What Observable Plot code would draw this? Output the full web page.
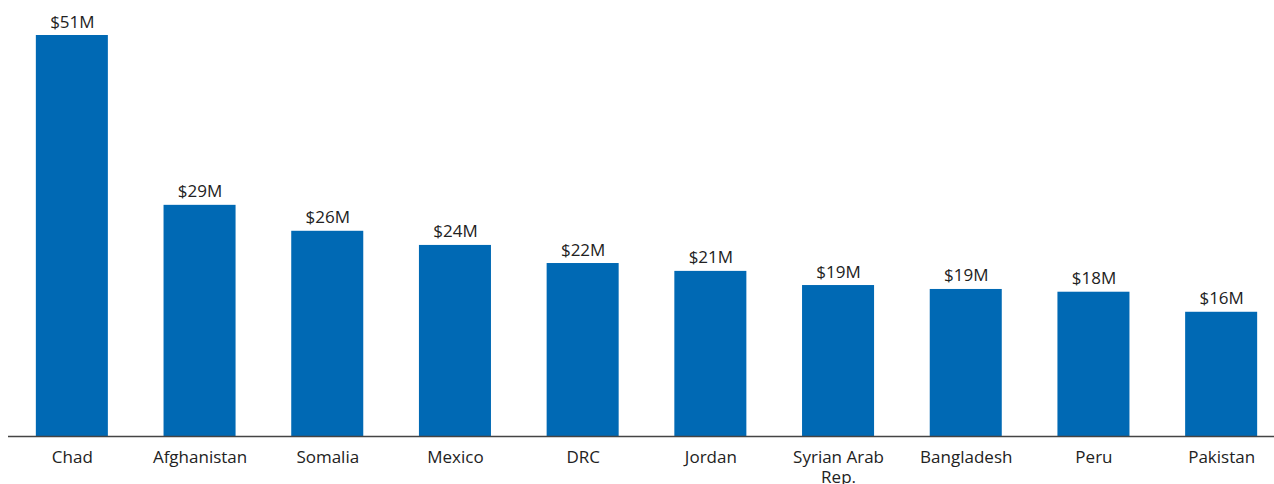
<!DOCTYPE html>
<html>
<head>
<meta charset="utf-8">
<script src="https://cdn.jsdelivr.net/npm/d3@7"></script>
<script src="https://cdn.jsdelivr.net/npm/@observablehq/plot@0.6"></script>
<style>
  html, body { margin: 0; padding: 0; background: #fff; overflow: hidden; }
  #chart { width: 1274px; height: 484px; overflow: hidden; }
  #chart svg { max-width: none !important; display: block; }
</style>
</head>
<body>
<div id="chart"></div>
<script>
const countries = ["Chad", "Afghanistan", "Somalia", "Mexico", "DRC", "Jordan", "Syrian Arab Rep.", "Bangladesh", "Peru", "Pakistan"];
const tickLabels = ["Chad", "Afghanistan", "Somalia", "Mexico", "DRC", "Jordan", "Syrian Arab\nRep.", "Bangladesh", "Peru", "Pakistan"];
const values = [51, 29.4, 26.1, 24.3, 22.0, 21.0, 19.2, 18.7, 18.35, 15.8];
const valueLabels = ["$51M", "$29M", "$26M", "$24M", "$22M", "$21M", "$19M", "$19M", "$18M", "$16M"];

const data = countries.map((c, i) => ({country: c, value: values[i], label: valueLabels[i]}));
const tickMap = new Map(countries.map((c, i) => [c, tickLabels[i]]));

const chart = Plot.plot({
  width: 1285,
  height: 484,
  marginLeft: 8,
  marginRight: 0,
  marginTop: 35,
  marginBottom: 48,
  style: {fontFamily: "'Open Sans', sans-serif", fontSize: "17px", color: "#222", background: "#fff"},
  x: {domain: countries, paddingInner: 0.436, paddingOuter: 0.218, round: false, label: null},
  y: {domain: [0, 51], axis: null},
  marks: [
    Plot.barY(data, {x: "country", y: "value", fill: "#0069b4"}),
    Plot.text(data, {x: "country", y: "value", text: "label", lineAnchor: "bottom", dy: -8, fontSize: 17, fill: "#222"}),
    Plot.ruleY([0], {stroke: "#444", strokeWidth: 1.5}),
    Plot.axisX({tickSize: 0, tickPadding: 13, tickFormat: d => tickMap.get(d), fontSize: 17, fill: "#222", lineHeight: 1.15})
  ]
});
chart.style.maxWidth = "none";
chart.style.height = "484px";
document.getElementById("chart").appendChild(chart);
</script>
</body>
</html>
